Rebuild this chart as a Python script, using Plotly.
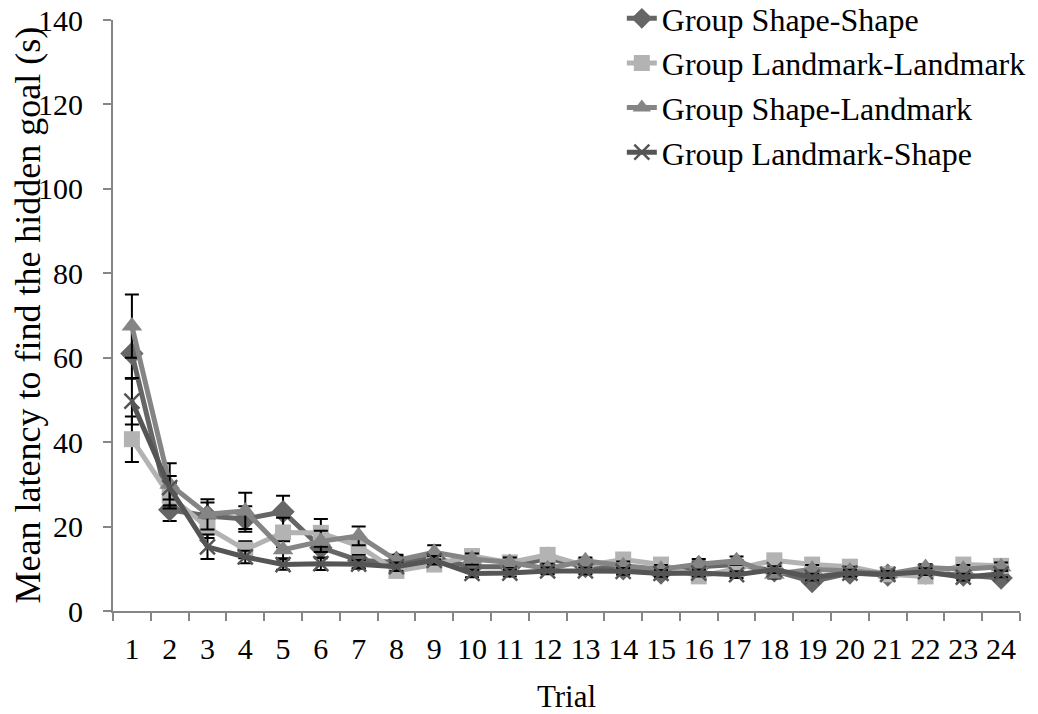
import plotly.graph_objects as go

trials = [str(i) for i in range(1, 25)]

shape_shape = [61.0, 24.0, 22.5, 21.8, 23.5, 15.0, 12.0, 11.5, 12.5, 10.5, 10.5, 12.5,
               10.5, 10.0, 9.0, 10.5, 11.0, 9.5, 7.0, 9.0, 8.5, 9.0, 8.5, 7.8]
shape_shape_se = [6.0, 2.7, 3.2, 3.0, 3.8, 2.5, 2.0, 1.5, 1.5, 1.5, 1.2, 1.4,
                  1.2, 1.0, 1.0, 1.2, 1.0, 1.0, 0.8, 0.8, 0.8, 0.8, 0.8, 0.8]

landmark_landmark = [40.7, 27.3, 19.8, 14.5, 18.6, 18.5, 15.4, 9.5, 11.0, 13.0, 11.5, 13.3,
                     10.7, 12.2, 11.0, 8.2, 10.0, 12.0, 11.0, 10.5, 8.7, 8.2, 11.0, 10.7]
landmark_landmark_se = [5.4, 3.0, 2.5, 2.0, 3.5, 3.3, 2.0, 1.2, 1.5, 1.5, 1.2, 1.4,
                        1.0, 1.0, 1.0, 1.0, 1.0, 1.0, 1.0, 1.0, 1.0, 1.0, 1.0, 1.0]

shape_landmark = [67.5, 30.0, 22.9, 23.7, 14.5, 16.5, 17.8, 12.0, 13.9, 12.3, 11.5, 10.0,
                  11.9, 10.7, 9.9, 11.1, 11.9, 8.7, 9.9, 9.5, 8.8, 10.3, 9.9, 10.5]
shape_landmark_se = [7.5, 5.0, 3.6, 4.3, 2.0, 2.5, 2.2, 1.3, 1.7, 1.3, 1.2, 1.2,
                     0.8, 1.0, 1.0, 1.2, 1.0, 1.0, 1.0, 1.0, 1.0, 0.8, 1.0, 1.0]

landmark_shape = [49.7, 29.2, 15.2, 12.8, 11.0, 11.2, 11.1, 10.5, 12.0, 8.9, 9.0, 9.5,
                  9.5, 9.4, 8.9, 9.0, 8.6, 9.8, 8.0, 9.0, 8.7, 9.3, 8.0, 8.8]
landmark_shape_se = [5.5, 2.8, 2.9, 1.5, 1.2, 1.5, 1.0, 1.0, 1.0, 0.9, 0.8, 0.8,
                     0.8, 0.8, 0.8, 0.8, 0.8, 0.8, 0.8, 0.8, 0.8, 0.8, 0.8, 0.8]

y_ticks = [0, 20, 40, 60, 80, 100, 120, 140]

series = [
    ("Group Shape-Shape", shape_shape, shape_shape_se, "#666666", "diamond", 18),
    ("Group Landmark-Landmark", landmark_landmark, landmark_landmark_se, "#b3b3b3", "square", 16),
    ("Group Shape-Landmark", shape_landmark, shape_landmark_se, "#858585", "triangle-up", 18),
    ("Group Landmark-Shape", landmark_shape, landmark_shape_se, "#555555", "x-thin", 15),
]

FONT = "Liberation Serif"

fig = go.Figure()
for name, vals, se, color, sym, size in series:
    marker = dict(symbol=sym, size=size, color=color)
    if sym == "x-thin":
        marker["line"] = dict(color=color, width=2.5)
    fig.add_trace(go.Scatter(
        x=trials, y=vals, name=name, mode="lines+markers", legendgroup=name,
        line=dict(color=color, width=5),
        marker=marker,
        error_y=dict(type="data", array=se, visible=True, color="black",
                     thickness=2, width=7),
    ))

fig.update_layout(
    width=1038, height=714,
    margin=dict(l=113, r=18, t=20, b=103, autoexpand=False),
    paper_bgcolor="white", plot_bgcolor="white",
    font=dict(family=FONT, size=30, color="black"),
    showlegend=True,
    legend=dict(x=0.561, xanchor="left", y=1.049, yanchor="top",
                bgcolor="rgba(0,0,0,0)", font=dict(size=32, family=FONT),
                tracegroupgap=0),
    xaxis=dict(
        type="category", range=[-0.5, 23.5], tickson="boundaries",
        ticks="outside", ticklen=8, dtick=1, tickangle=0,
        tickcolor="#868686", tickwidth=2, showline=True, linecolor="#868686",
        linewidth=2, showgrid=False, zeroline=False,
        tickfont=dict(family=FONT, size=30), ticklabelstandoff=10,
        title=dict(text="Trial", font=dict(family=FONT, size=31), standoff=22),
    ),
    yaxis=dict(
        range=[0, 140], tickvals=y_ticks,
        ticks="outside", ticklen=8, tickcolor="#868686", tickwidth=2,
        showline=True, linecolor="#868686", linewidth=2, showgrid=False,
        zeroline=False, tickfont=dict(family=FONT, size=30),
        ticklabelstandoff=14,
    ),
    annotations=[dict(
        text="Mean latency to find the hidden goal (s)", textangle=-90,
        xref="paper", yref="paper", x=-0.0948, y=0.5,
        xanchor="center", yanchor="middle", showarrow=False,
        font=dict(family=FONT, size=36, color="black"),
    )],
)

fig.write_html("out.html")
